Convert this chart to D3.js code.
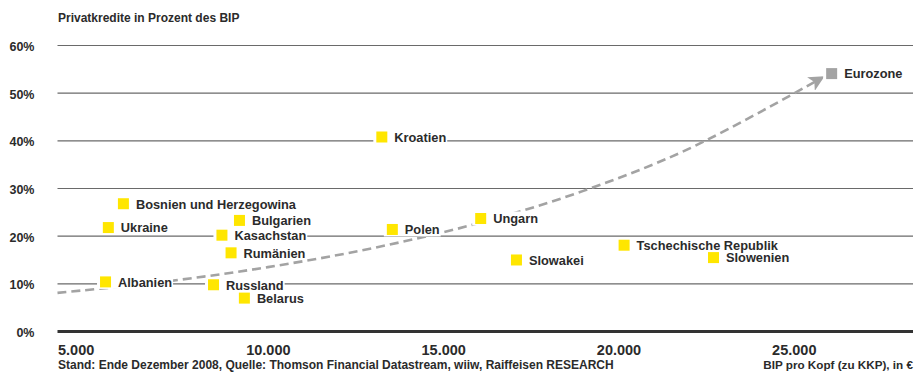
<!DOCTYPE html>
<html>
<head>
<meta charset="utf-8">
<script src="https://cdn.jsdelivr.net/npm/d3@7"></script>
<style>
  html, body { margin: 0; padding: 0; background: #fff; }
  svg text { font-family: "Liberation Sans", Arial, sans-serif; fill: #2b2b2b; }
</style>
</head>
<body>
<svg id="chart" width="915" height="381"></svg>
<script>
// Countries: GDP per capita (PPP, EUR) and private credit (% of GDP)
const countries = ["Bosnien und Herzegowina", "Ukraine", "Bulgarien", "Kasachstan", "Rumänien",
  "Albanien", "Russland", "Belarus", "Kroatien", "Polen", "Ungarn", "Slowakei",
  "Tschechische Republik", "Slowenien", "Eurozone"];
const gdpPerCapita = [5880, 5450, 9190, 8690, 8950, 5370, 8450, 9330, 13250, 13550, 16070, 17090, 20160, 22710, 26080];
const privateCredit = [26.7, 21.7, 23.2, 20.1, 16.4, 10.3, 9.7, 6.9, 40.7, 21.3, 23.6, 14.9, 18.0, 15.4, 54.0];

// Trend curve (hand-read support points)
const trendGdp = [4000, 7000, 10000, 13000, 16000, 19000, 22000, 25800];
const trendCredit = [8.0, 10.3, 13.4, 17.4, 22.6, 29.4, 38.2, 53.1];

const yTicks = [0, 10, 20, 30, 40, 50, 60];
const yTickLabels = ["0%", "10%", "20%", "30%", "40%", "50%", "60%"];
const xTicks = [5000, 10000, 15000, 20000, 25000];
const xTickLabels = ["5.000", "10.000", "15.000", "20.000", "25.000"];

const title = "Privatkredite in Prozent des BIP";
const sourceNote = "Stand: Ende Dezember 2008, Quelle: Thomson Financial Datastream, wiiw, Raiffeisen RESEARCH";
const xAxisTitle = "BIP pro Kopf (zu KKP), in €";

const svg = d3.select("#chart");
const plotLeft = 57.5, plotRight = 913, plotTop = 45, plotBottom = 331;

const x = d3.scaleLinear().domain([4000, 28400]).range([plotLeft, plotRight]);
const y = d3.scaleLinear().domain([0, 60]).range([plotBottom, plotTop]);

// Title
svg.append("text").attr("x", 58).attr("y", 21.5)
  .attr("font-size", 12).attr("font-weight", "bold").text(title);

// Horizontal grid
const yAxis = d3.axisLeft(y).tickValues(yTicks)
  .tickSize(-(plotRight - plotLeft)).tickFormat((d, i) => yTickLabels[i]);
const gy = svg.append("g").attr("transform", `translate(${plotLeft},0)`).call(yAxis);
gy.select(".domain").remove();
gy.selectAll(".tick line").attr("stroke", "#6a6a6a").attr("stroke-width", 1.2);
gy.selectAll(".tick text").attr("x", -23).attr("dy", "0.45em")
  .attr("font-size", 12.5).attr("font-weight", "bold").attr("fill", "#2b2b2b");
gy.selectAll(".tick").filter(d => d === 0).select("line")
  .attr("stroke", "#333").attr("stroke-width", 3);

// X axis labels
const xAxis = d3.axisBottom(x).tickValues(xTicks).tickSize(0)
  .tickFormat((d, i) => xTickLabels[i]);
const gx = svg.append("g").attr("transform", `translate(0,${plotBottom})`).call(xAxis);
gx.select(".domain").remove();
gx.selectAll(".tick text").attr("y", 23.5).attr("dy", 0)
  .attr("font-size", 14.5).attr("font-weight", "bold").attr("fill", "#2b2b2b");
gx.selectAll(".tick").filter(d => d === 5000).select("text")
  .attr("text-anchor", "start").attr("x", plotLeft - x(5000));

// Footer
svg.append("text").attr("x", 58).attr("y", 369)
  .attr("font-size", 12).attr("font-weight", "bold").text(sourceNote);
svg.append("text").attr("x", 913).attr("y", 369).attr("text-anchor", "end")
  .attr("font-size", 11.7).attr("font-weight", "bold").text(xAxisTitle);

// Trend curve with arrow
const defs = svg.append("defs");
defs.append("marker").attr("id", "arrow")
  .attr("viewBox", "0 0 10 10").attr("refX", 8).attr("refY", 5)
  .attr("markerWidth", 6).attr("markerHeight", 6).attr("orient", "auto")
  .attr("markerUnits", "strokeWidth")
  .append("path").attr("d", "M0,0 L10,5 L0,10 L2.5,5 Z").attr("fill", "#a3a3a3");

const trend = d3.line().curve(d3.curveCatmullRom)
  .x((d, i) => x(trendGdp[i])).y(d => y(d));
svg.append("path").datum(trendCredit).attr("d", trend)
  .attr("fill", "none").attr("stroke", "#a3a3a3").attr("stroke-width", 2.6)
  .attr("stroke-dasharray", "9,5").attr("marker-end", "url(#arrow)");

// Points with labels: white knock-out boxes first, then squares, then names
const sq = 11;
const pos = (d, i) => `translate(${x(gdpPerCapita[i])},${y(privateCredit[i])})`;
const bgLayer = svg.append("g");
const markLayer = svg.append("g");
const textLayer = svg.append("g");

const labels = textLayer.selectAll("text").data(countries).join("text")
  .attr("transform", pos)
  .attr("x", sq / 2 + 7).attr("y", 0).attr("dy", "0.38em")
  .attr("font-size", 12.8).attr("font-weight", "bold").text(d => d);
const widths = labels.nodes().map(n => n.getComputedTextLength());

bgLayer.selectAll("rect").data(countries).join("rect")
  .attr("transform", pos)
  .attr("x", -sq / 2 - 3).attr("y", -7)
  .attr("width", (d, i) => sq + 7 + widths[i] + 4).attr("height", 14)
  .attr("fill", "#fff");

markLayer.selectAll("rect").data(countries).join("rect")
  .attr("transform", pos)
  .attr("x", -sq / 2).attr("y", -sq / 2).attr("width", sq).attr("height", sq)
  .attr("fill", d => d === "Eurozone" ? "#a3a3a3" : "#ffe600");
</script>
</body>
</html>
